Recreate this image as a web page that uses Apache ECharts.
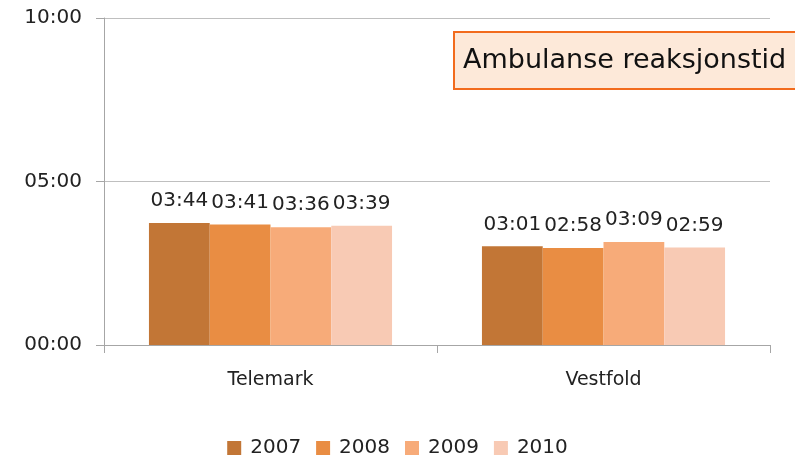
<!DOCTYPE html>
<html>
<head>
<meta charset="utf-8">
<script src="https://cdn.jsdelivr.net/npm/echarts@6/dist/echarts.min.js"></script>
<style>
  html, body { margin: 0; padding: 0; background: #fff; }
  #main { width: 795px; height: 465px; }
</style>
</head>
<body>
<div id="main"></div>
<script>
// tider i sekunder
var regions = ['Telemark', 'Vestfold'];
var years = ['2007', '2008', '2009', '2010'];
var v2007 = [224, 181]; // 03:44, 03:01
var v2008 = [221, 178]; // 03:41, 02:58
var v2009 = [216, 189]; // 03:36, 03:09
var v2010 = [219, 179]; // 03:39, 02:59
var yTicks = [0, 300, 600];
var colors = ['#C27636', '#E98D43', '#F7AB79', '#F8CAB4'];

function mmss(sec) {
    var m = Math.floor(sec / 60), s = Math.round(sec % 60);
    return (m < 10 ? '0' : '') + m + ':' + (s < 10 ? '0' : '') + s;
}

var dom = document.getElementById('main');
var myChart = echarts.init(dom);
var seriesData = [v2007, v2008, v2009, v2010];

var option = {
    animation: false,
    color: colors,
    grid: { left: 104, right: 25, top: 18, bottom: 120 },
    legend: {
        bottom: 2,
        left: 'center',
        itemWidth: 14,
        itemHeight: 14,
        itemGap: 15,
        icon: 'rect',
        data: years,
        textStyle: { fontFamily: 'DejaVu Sans', fontSize: 20, color: '#222', padding: [0, 0, 0, 4] }
    },
    xAxis: {
        type: 'category',
        data: regions,
        axisLine: { lineStyle: { color: '#a6a6a6' } },
        axisTick: { show: true, length: 8, lineStyle: { color: '#a6a6a6' } },
        axisLabel: { margin: 26, fontFamily: 'DejaVu Sans', fontSize: 19, color: '#222' }
    },
    yAxis: {
        type: 'value',
        min: yTicks[0],
        max: yTicks[yTicks.length - 1],
        interval: yTicks[1] - yTicks[0],
        axisLine: { show: true, lineStyle: { color: '#a6a6a6' } },
        axisTick: { show: true, length: 8, lineStyle: { color: '#a6a6a6' } },
        splitLine: { lineStyle: { color: '#bfbfbf' } },
        axisLabel: {
            margin: 22,
            fontFamily: 'DejaVu Sans', fontSize: 20, color: '#222',
            formatter: function (v) { return mmss(v); }
        }
    },
    series: years.map(function (y, i) {
        return {
            name: y,
            type: 'bar',
            data: seriesData[i],
            barGap: '0%',
            barCategoryGap: '27%',
            label: {
                show: true,
                position: 'top',
                distance: 12,
                fontFamily: 'DejaVu Sans',
                fontSize: 20,
                color: '#222',
                formatter: function (p) { return mmss(p.value); }
            }
        };
    }),
    graphic: [{
        type: 'group',
        left: 453,
        top: 31,
        children: [{
            type: 'rect',
            shape: { x: 0, y: 0, width: 360, height: 57 },
            style: { fill: '#FDE9D9', stroke: '#F26B1D', lineWidth: 2 }
        }, {
            type: 'text',
            x: 9,
            y: 29,
            style: {
                text: 'Ambulanse reaksjonstid',
                fontFamily: 'DejaVu Sans',
                fontSize: 27,
                fill: '#111',
                verticalAlign: 'middle'
            }
        }]
    }]
};

if (option && typeof option === 'object') {
    myChart.setOption(option, true);
}
</script>
</body>
</html>
